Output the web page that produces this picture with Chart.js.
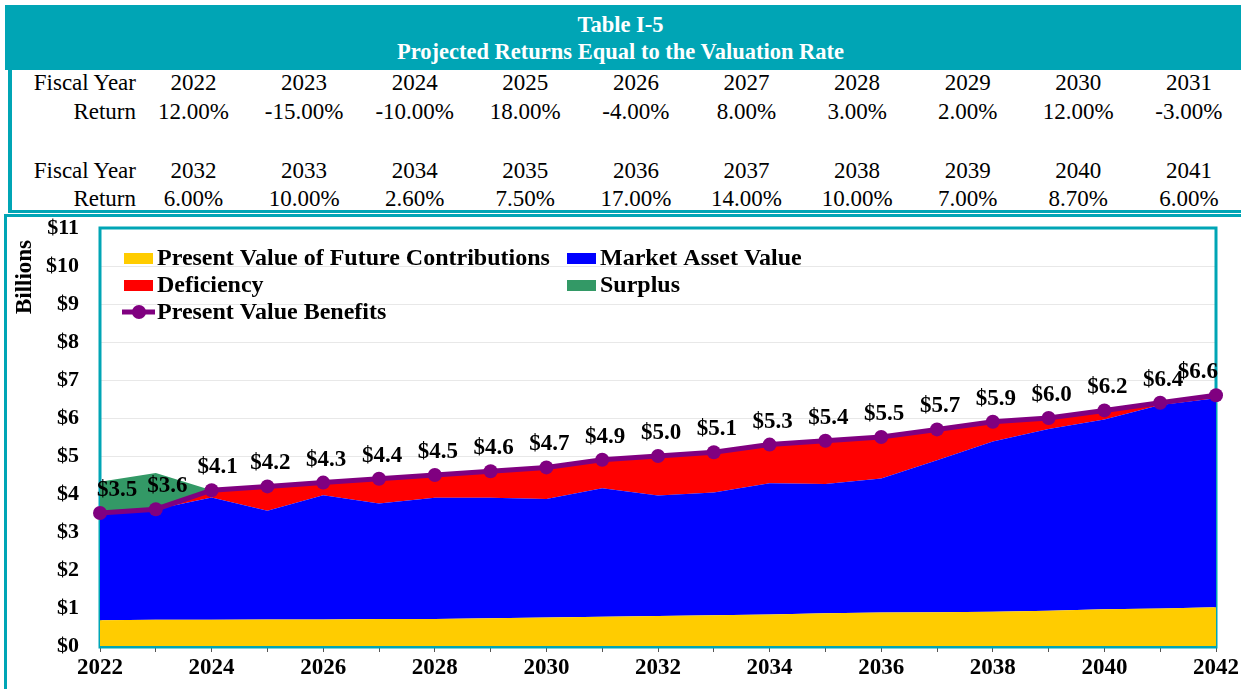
<!DOCTYPE html>
<html>
<head>
<meta charset="utf-8">
<script src="https://cdn.jsdelivr.net/npm/chart.js@4.4.1/dist/chart.umd.min.js"></script>
<style>
  body { margin: 0; background: #fff; font-family: "Liberation Serif", "Times New Roman", serif; }
  #page { position: relative; width: 1241px; height: 689px; overflow: hidden; }
  .teal { position: absolute; background: #00a5b5; }
  .title { position: absolute; left: 0; width: 1241px; text-align: center; color: #fff;
           font-weight: bold; font-size: 22.5px; line-height: 28px; }
  .cell { position: absolute; font-size: 23px; line-height: 28px; white-space: nowrap; color: #000; }
  canvas { position: absolute; left: 0; top: 0; }
</style>
</head>
<body>
<div id="page">
  <div class="teal" style="left:5px;top:5px;width:1236px;height:65px"></div>
  <div class="title" style="top:10.5px">Table I-5</div>
  <div class="title" style="top:38px">Projected Returns Equal to the Valuation Rate</div>
  <div class="teal" style="left:8px;top:70px;width:4px;height:143px"></div>
  <div class="teal" style="left:8px;top:210px;width:1233px;height:3px"></div>
  <div class="teal" style="left:5px;top:214px;width:1236px;height:3px"></div>
  <div class="teal" style="left:4px;top:214px;width:3px;height:475px"></div>
  <div id="table"></div>
  <canvas id="chart" width="1241" height="689"></canvas>
</div>
<script>
// table of returns
const yearsRow1 = ['2022', '2023', '2024', '2025', '2026', '2027', '2028', '2029', '2030', '2031'];
const returnsRow1 = [12.00, -15.00, -10.00, 18.00, -4.00, 8.00, 3.00, 2.00, 12.00, -3.00];
const yearsRow2 = ['2032', '2033', '2034', '2035', '2036', '2037', '2038', '2039', '2040', '2041'];
const returnsRow2 = [6.00, 10.00, 2.60, 7.50, 17.00, 14.00, 10.00, 7.00, 8.70, 6.00];

// chart data, $ billions
const years = ['2022', '2023', '2024', '2025', '2026', '2027', '2028', '2029', '2030', '2031', '2032',
  '2033', '2034', '2035', '2036', '2037', '2038', '2039', '2040', '2041', '2042'];
const pvContributions = [0.68, 0.69, 0.69, 0.70, 0.70, 0.71, 0.71, 0.73, 0.75, 0.77, 0.79,
  0.81, 0.83, 0.86, 0.88, 0.89, 0.90, 0.93, 0.97, 0.99, 1.02];
const marketAssets = [2.82, 2.91, 3.22, 2.86, 3.27, 3.04, 3.19, 3.17, 3.12, 3.38, 3.17,
  3.23, 3.45, 3.40, 3.53, 4.00, 4.48, 4.78, 4.99, 5.35, 5.50];
const deficiency = [0, 0, 0.19, 0.64, 0.33, 0.65, 0.60, 0.70, 0.83, 0.75, 1.04,
  1.06, 1.02, 1.14, 1.09, 0.81, 0.52, 0.29, 0.24, 0.06, 0.08];
const surplus = [0.82, 0.95, 0, 0, 0, 0, 0, 0, 0, 0, 0,
  0, 0, 0, 0, 0, 0, 0, 0, 0, 0];
const pvBenefits = [3.5, 3.6, 4.1, 4.2, 4.3, 4.4, 4.5, 4.6, 4.7, 4.9, 5.0,
  5.1, 5.3, 5.4, 5.5, 5.7, 5.9, 6.0, 6.2, 6.4, 6.6];
const yTicks = [0, 1, 2, 3, 4, 5, 6, 7, 8, 9, 10, 11];

const TEAL = '#00a5b5';
const YELLOW = '#ffcc00';
const BLUE = '#0000ff';
const RED = '#ff0000';
const GREEN = '#339966';
const PURPLE = '#800080';
const SERIF = '"Liberation Serif", "Times New Roman", serif';

// build the html table
const table = document.getElementById('table');
function addCell(text, left, top, width, align) {
  const d = document.createElement('div');
  d.className = 'cell';
  d.style.left = left + 'px';
  d.style.top = top + 'px';
  d.style.width = width + 'px';
  d.style.textAlign = align;
  d.textContent = text;
  table.appendChild(d);
}
function addRows(yrs, rets, top1, top2) {
  addCell('Fiscal Year', 0, top1, 136, 'right');
  addCell('Return', 0, top2, 136, 'right');
  yrs.forEach((y, i) => {
    const cx = 193.5 + 110.6 * i;
    addCell(y, cx - 55, top1, 110, 'center');
    addCell(rets[i].toFixed(2) + '%', cx - 55, top2, 110, 'center');
  });
}
addRows(yearsRow1, returnsRow1, 69, 98.3);
addRows(yearsRow2, returnsRow2, 156.6, 185);

// plugins
const plotFrame = {
  id: 'plotFrame',
  beforeDatasetsDraw(chart) {
    const { ctx, chartArea: a } = chart;
    ctx.save();
    ctx.strokeStyle = TEAL;
    ctx.lineWidth = 3;
    ctx.strokeRect(a.left, a.top, a.right - a.left, a.bottom - a.top + 1);
    ctx.restore();
  }
};

const pointLabels = {
  id: 'pointLabels',
  afterDatasetsDraw(chart) {
    const meta = chart.getDatasetMeta(4);
    const { ctx, chartArea: a } = chart;
    ctx.save();
    ctx.font = 'bold 23px ' + SERIF;
    ctx.fillStyle = '#000';
    ctx.textAlign = 'center';
    ctx.textBaseline = 'alphabetic';
    let prevRight = -Infinity;
    meta.data.forEach((pt, i) => {
      const txt = '$' + pvBenefits[i].toFixed(1);
      const w = ctx.measureText(txt).width;
      let x = pt.x + 3;
      x = Math.max(x, a.left - 3 + w / 2, prevRight + 10 + w / 2);
      x = Math.min(x, a.right + 2 - w / 2);
      ctx.fillText(txt, x, pt.y - 17);
      prevRight = x + w / 2;
    });
    ctx.restore();
  }
};

const customLegend = {
  id: 'customLegend',
  afterDraw(chart) {
    const { ctx, chartArea: a } = chart;
    const ds = chart.data.datasets;
    const cols = [a.left + 24, a.left + 467];
    const rows = [a.top + 30, a.top + 57, a.top + 84];
    const spots = [[0, 0], [1, 0], [0, 1], [1, 1], [0, 2]];
    ctx.save();
    ctx.font = 'bold 24px ' + SERIF;
    ctx.textBaseline = 'middle';
    ds.forEach((d, i) => {
      const x = cols[spots[i][0]];
      const y = rows[spots[i][1]];
      if (d.fill === false) {
        ctx.strokeStyle = d.borderColor;
        ctx.lineWidth = 5;
        ctx.beginPath();
        ctx.moveTo(x - 2, y);
        ctx.lineTo(x + 31, y);
        ctx.stroke();
        ctx.fillStyle = d.pointBackgroundColor;
        ctx.beginPath();
        ctx.arc(x + 15, y, 7, 0, Math.PI * 2);
        ctx.fill();
      } else {
        ctx.fillStyle = d.backgroundColor;
        ctx.fillRect(x, y - 5, 29, 11);
      }
      ctx.fillStyle = '#000';
      ctx.fillText(d.label, x + 33, y + 1);
    });
    ctx.restore();
  }
};

const yTitle = {
  id: 'yTitle',
  afterDraw(chart) {
    const { ctx } = chart;
    ctx.save();
    ctx.translate(25, 277);
    ctx.rotate(-Math.PI / 2);
    ctx.font = 'bold 23px ' + SERIF;
    ctx.fillStyle = '#000';
    ctx.textAlign = 'center';
    ctx.textBaseline = 'middle';
    ctx.fillText('Billions', 0, 0);
    ctx.restore();
  }
};

function area(label, data, color, fill) {
  return {
    type: 'line', label, data, fill, stack: 'assets', order: 1,
    backgroundColor: color, borderColor: color, borderWidth: 0,
    pointRadius: 0, tension: 0
  };
}

const ctx = document.getElementById('chart').getContext('2d');
new Chart(ctx, {
  type: 'line',
  data: {
    labels: years,
    datasets: [
      area('Present Value of Future Contributions', pvContributions, YELLOW, 'origin'),
      area('Market Asset Value', marketAssets, BLUE, '-1'),
      area('Deficiency', deficiency, RED, '-1'),
      area('Surplus', surplus, GREEN, '-1'),
      {
        type: 'line', label: 'Present Value Benefits', data: pvBenefits, fill: false,
        stack: 'benefits', order: 0,
        borderColor: PURPLE, borderWidth: 5, tension: 0,
        pointRadius: 7, pointBackgroundColor: PURPLE, pointBorderColor: PURPLE, pointBorderWidth: 0
      }
    ]
  },
  options: {
    responsive: false,
    animation: false,
    events: [],
    layout: { padding: { top: 228, right: 25, bottom: 0, left: 0 } },
    plugins: {
      legend: { display: false },
      tooltip: { enabled: false }
    },
    scales: {
      x: {
        z: 1,
        afterFit(s) { s.height = 43; },
        grid: { drawOnChartArea: false, drawTicks: true, tickLength: 6, color: '#555' },
        border: { display: true, color: '#000', width: 1.5 },
        ticks: {
          autoSkip: false, maxRotation: 0, minRotation: 0, padding: 2,
          color: '#000', font: { family: SERIF, size: 23, weight: 'bold' },
          callback: (v, i) => (i % 2 === 0 ? years[i] : '')
        }
      },
      y: {
        stacked: true,
        min: yTicks[0],
        max: yTicks[yTicks.length - 1],
        afterFit(s) { s.width = 100; },
        afterBuildTicks(s) { s.ticks = yTicks.map(v => ({ value: v })); },
        grid: { color: '#e8e8e8', lineWidth: 1, drawTicks: false },
        border: { display: false },
        ticks: {
          padding: 21, color: '#000', font: { family: SERIF, size: 22, weight: 'bold' },
          callback: v => '$' + v
        }
      }
    }
  },
  plugins: [plotFrame, pointLabels, customLegend, yTitle]
});
</script>
</body>
</html>
